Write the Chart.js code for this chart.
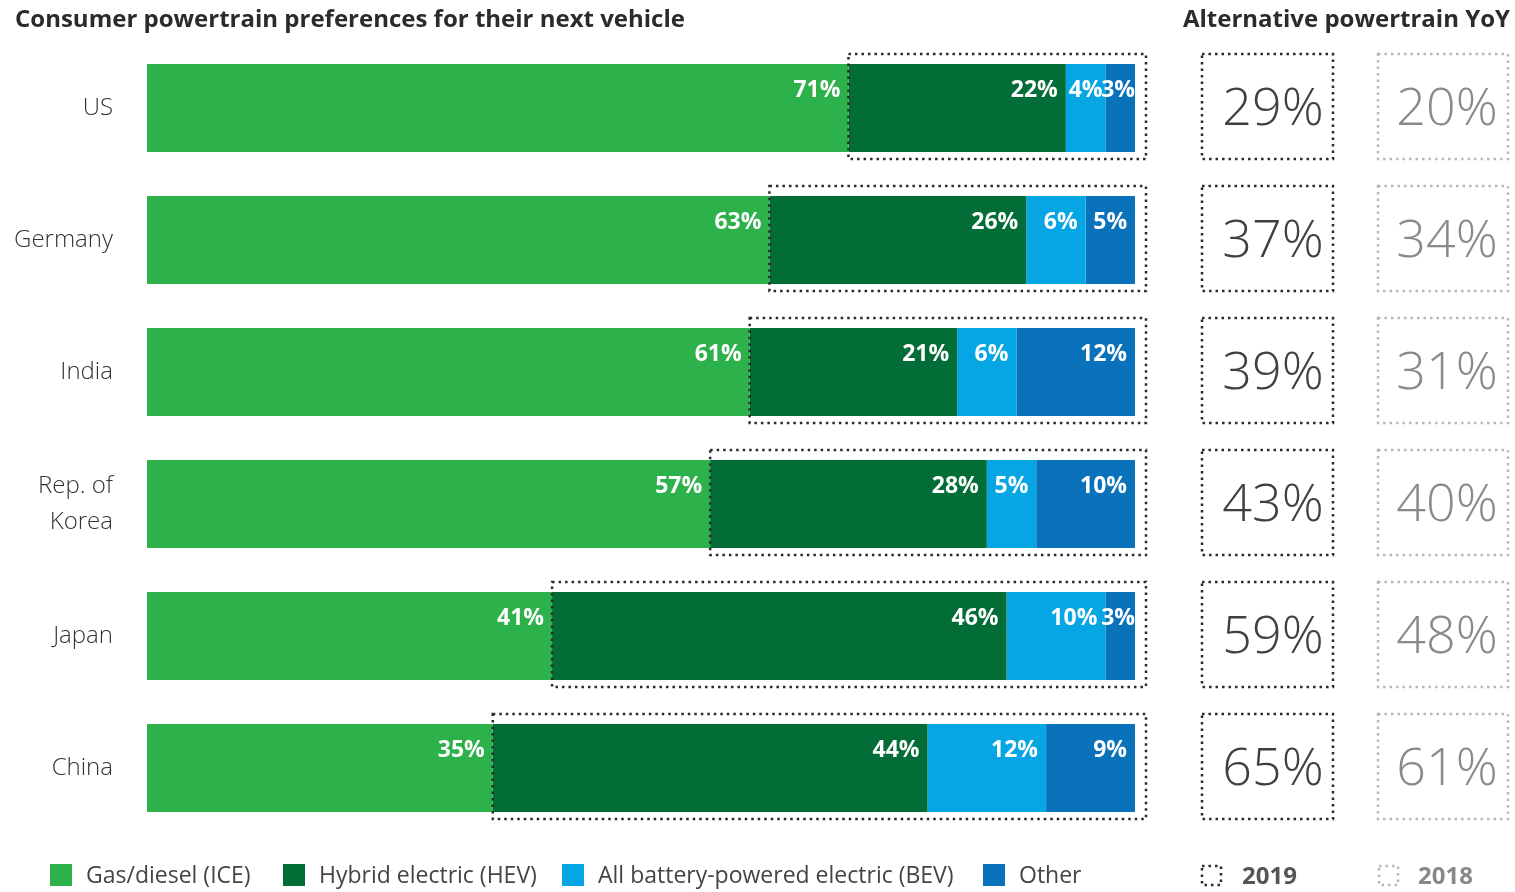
<!DOCTYPE html>
<html lang="en">

<head>
    <meta charset="UTF-8">
    <title>Consumer powertrain preferences</title>
    <script src="https://cdn.jsdelivr.net/npm/chart.js@4.4.1/dist/chart.umd.min.js"></script>
    <style>
        html, body { margin: 0; padding: 0; background: #fff; }
        #wrap { width: 1515px; height: 892px; position: relative; }
    </style>
</head>

<body>
    <div id="wrap"><canvas id="myChart"></canvas></div>

    <script>
        // survey shares per country, in percent
        const categories = ['US', 'Germany', 'India', ['Rep. of', 'Korea'], 'Japan', 'China'];
        const ice = [71, 63, 61, 57, 41, 35];
        const hev = [22, 26, 21, 28, 46, 44];
        const bev = [4, 6, 6, 5, 10, 12];
        const other = [3, 5, 12, 10, 3, 9];

        // alternative powertrain share, year over year
        const alt2019 = [29, 37, 39, 43, 59, 65];
        const alt2018 = [20, 34, 31, 40, 48, 61];

        const seriesNames = ['Gas/diesel (ICE)', 'Hybrid electric (HEV)', 'All battery-powered electric (BEV)', 'Other'];
        const seriesColors = ['#2db14b', '#036d37', '#06a6e5', '#0a72bb'];

        const FONT = '"Open Sans", "Noto Sans", sans-serif';

        function dotted(ctx, x, y, w, h, color) {
            ctx.save();
            ctx.strokeStyle = color;
            ctx.lineWidth = 2.5;
            ctx.setLineDash([2.5, 4]);
            ctx.strokeRect(x, y, w, h);
            ctx.restore();
        }

        const extras = {
            id: 'extras',
            afterDatasetsDraw(chart) {
                const ctx = chart.ctx;
                const area = chart.chartArea;
                const xs = chart.scales.x;

                // segment labels, pulled tight to the right edge on narrow segments
                ctx.save();
                ctx.font = 'bold 23px ' + FONT;
                ctx.fillStyle = '#fff';
                ctx.textAlign = 'right';
                ctx.textBaseline = 'middle';
                chart.data.datasets.forEach((ds, d) => {
                    chart.getDatasetMeta(d).data.forEach((bar, i) => {
                        const txt = ds.data[i] + '%';
                        const top = bar.y - bar.height / 2;
                        const segW = bar.x - bar.base;
                        const gap = Math.max(0, Math.min(8, (segW - ctx.measureText(txt).width) / 2));
                        ctx.fillText(txt, bar.x - gap, top + 26);
                    });
                });
                ctx.restore();

                // dotted frame round the alternative powertrain part + YoY boxes
                const meta = chart.getDatasetMeta(0);
                meta.data.forEach((bar, i) => {
                    const top = bar.y - bar.height / 2 - 10;
                    const h = bar.height + 17;
                    const x0 = xs.getPixelForValue(ice[i]);
                    dotted(ctx, x0, top, area.right + 11 - x0, h, '#2a2a2a');
                    dotted(ctx, 1202, top, 131, h, '#2a2a2a');
                    dotted(ctx, 1378, top, 130, h, '#b8b8b8');

                    ctx.save();
                    ctx.textAlign = 'center';
                    ctx.textBaseline = 'middle';
                    ctx.font = '300 52px ' + FONT;
                    ctx.fillStyle = '#404040';
                    ctx.fillText(alt2019[i] + '%', 1273, bar.y + 2);
                    ctx.fillStyle = '#8a8a8a';
                    ctx.fillText(alt2018[i] + '%', 1447, bar.y + 2);
                    ctx.restore();
                });

                // titles
                ctx.save();
                ctx.font = 'bold 24px ' + FONT;
                ctx.fillStyle = '#2b2b2b';
                ctx.textBaseline = 'middle';
                ctx.textAlign = 'left';
                ctx.fillText('Consumer powertrain preferences for their next vehicle', 15, 20);
                ctx.textAlign = 'right';
                ctx.fillText('Alternative powertrain YoY', 1510, 20);
                ctx.restore();

                // legend
                const legendX = [50, 283, 562, 983];
                ctx.save();
                ctx.font = '23px ' + FONT;
                ctx.textBaseline = 'middle';
                ctx.textAlign = 'left';
                chart.data.datasets.forEach((ds, d) => {
                    ctx.fillStyle = ds.backgroundColor;
                    ctx.fillRect(legendX[d], 864, 22, 22);
                    ctx.fillStyle = '#444';
                    ctx.fillText(ds.label, legendX[d] + 36, 876);
                });
                dotted(ctx, 1202, 866, 19, 19, '#2a2a2a');
                dotted(ctx, 1379, 866, 19, 19, '#b8b8b8');
                ctx.font = 'bold 24px ' + FONT;
                ctx.fillStyle = '#555';
                ctx.fillText('2019', 1242, 877);
                ctx.fillStyle = '#888';
                ctx.fillText('2018', 1418, 877);
                ctx.restore();
            }
        };

        const ctx = document.getElementById('myChart').getContext('2d');
        const myChart = new Chart(ctx, {
            type: 'bar',
            data: {
                labels: categories,
                datasets: [ice, hev, bev, other].map((vals, d) => ({
                    label: seriesNames[d],
                    data: vals,
                    backgroundColor: seriesColors[d],
                    borderWidth: 0,
                    categoryPercentage: 1,
                    barPercentage: 0.667
                }))
            },
            options: {
                indexAxis: 'y',
                responsive: true,
                maintainAspectRatio: false,
                animation: false,
                layout: { padding: { left: 0, top: 42, right: 380, bottom: 58 } },
                plugins: {
                    legend: { display: false },
                    tooltip: { enabled: false },
                    title: { display: false }
                },
                scales: {
                    x: { stacked: true, min: 0, max: 100, display: false },
                    y: {
                        stacked: true,
                        grid: { display: false, drawTicks: false },
                        border: { display: false },
                        ticks: {
                            padding: 34,
                            color: '#333',
                            font: { family: FONT, size: 24, weight: '300', lineHeight: 1.5 }
                        },
                        afterFit(scale) {
                            scale.width = 147;
                            scale.paddingTop = 0;
                            scale.paddingBottom = 0;
                        }
                    }
                }
            },
            plugins: [extras]
        });
    </script>
</body>
</html>
